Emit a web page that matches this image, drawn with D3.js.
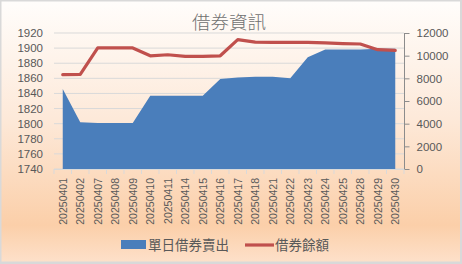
<!DOCTYPE html>
<html>
<head>
<meta charset="utf-8">
<script src="https://cdn.jsdelivr.net/npm/d3@7"></script>
<style>
  body { margin: 0; background: #fff; }
  svg { display: block; }
</style>
</head>
<body>
<div id="chart"></div>
<script>
// data
var dates = ["20250401","20250402","20250407","20250408","20250409","20250410","20250411","20250414","20250415","20250416",
             "20250417","20250418","20250421","20250422","20250423","20250424","20250425","20250428","20250429","20250430"];
var dailySell = [1846, 1802, 1801, 1801, 1801, 1837, 1837, 1837, 1837, 1859,
                 1861, 1862, 1862, 1860, 1888, 1898, 1898, 1898, 1899, 1899];
var balance = [8320, 8350, 10680, 10680, 10680, 9990, 10080, 9940, 9940, 9990,
               11410, 11200, 11170, 11170, 11170, 11120, 11060, 11030, 10530, 10470];
var leftTicks = [1740,1760,1780,1800,1820,1840,1860,1880,1900,1920];
var rightTicks = [0,2000,4000,6000,8000,10000,12000];

var W = 462, H = 264;
var plot = {left: 54, right: 404, top: 33, bottom: 169};
var numFont = "'Liberation Sans', Arial, sans-serif";
var cjkFont = "'Noto Sans CJK TC', 'Noto Sans CJK SC', sans-serif";

var svg = d3.select("#chart").append("svg")
    .attr("width", W)
    .attr("height", H);

// background gradient
var defs = svg.append("defs");
var grad = defs.append("linearGradient")
    .attr("id", "bg")
    .attr("x1", 0).attr("y1", 0).attr("x2", 0).attr("y2", 1);
grad.append("stop").attr("offset", "0").attr("stop-color", "#fffdfb");
grad.append("stop").attr("offset", "0.45").attr("stop-color", "#fde9d9");
grad.append("stop").attr("offset", "0.86").attr("stop-color", "#fbcfa9");
grad.append("stop").attr("offset", "1").attr("stop-color", "#fde0c9");

svg.append("rect")
    .attr("x", 0).attr("y", 0)
    .attr("width", W).attr("height", H)
    .attr("fill", "#d9d9d9");
svg.append("rect")
    .attr("x", 1.5).attr("y", 1.5)
    .attr("width", W - 3.5).attr("height", H - 4)
    .attr("fill", "url(#bg)");

// scales
var x = d3.scaleBand()
    .domain(dates)
    .range([plot.left, plot.right]);
var yL = d3.scaleLinear()
    .domain([1740, 1920])
    .range([plot.bottom, plot.top]);
var yR = d3.scaleLinear()
    .domain([0, 12000])
    .range([plot.bottom, plot.top]);
var cx = function(d) { return x(d) + x.bandwidth() / 2; };

// gridlines
svg.append("g")
    .selectAll("line")
    .data(leftTicks)
    .enter()
    .append("line")
    .attr("x1", plot.left)
    .attr("x2", plot.right)
    .attr("y1", d => yL(d))
    .attr("y2", d => yL(d))
    .attr("stroke", "#d9d9d9")
    .attr("stroke-width", 1);

// area
var area = d3.area()
    .x(function(d, i) { return cx(dates[i]); })
    .y0(yL(1740))
    .y1(function(d) { return yL(d); });

svg.append("path")
    .datum(dailySell)
    .attr("d", area)
    .attr("fill", "#4a7ebb");

// bottom axis line + ticks
svg.append("line")
    .attr("x1", plot.left).attr("x2", plot.right)
    .attr("y1", plot.bottom + 0.5).attr("y2", plot.bottom + 0.5)
    .attr("stroke", "#d9d9d9");
svg.append("g")
    .selectAll("line")
    .data(dates.concat(["end"]))
    .enter()
    .append("line")
    .attr("x1", (d, i) => plot.left + i * x.bandwidth())
    .attr("x2", (d, i) => plot.left + i * x.bandwidth())
    .attr("y1", plot.bottom)
    .attr("y2", plot.bottom + 5)
    .attr("stroke", "#d9d9d9");

// line
var line = d3.line()
    .x(function(d, i) { return cx(dates[i]); })
    .y(function(d) { return yR(d); });

svg.append("path")
    .datum(balance)
    .attr("d", line)
    .attr("fill", "none")
    .attr("stroke", "#c0504d")
    .attr("stroke-width", 3.2)
    .attr("stroke-linejoin", "round")
    .attr("stroke-linecap", "round");

// left axis labels
svg.append("g")
    .selectAll("text")
    .data(leftTicks)
    .enter()
    .append("text")
    .attr("x", 43)
    .attr("y", d => yL(d) + 4)
    .attr("text-anchor", "end")
    .style("font-family", numFont)
    .style("font-size", "11.5px")
    .attr("fill", "#595959")
    .text(d => d);

// right axis
var rightAxis = d3.axisRight(yR)
    .tickValues(rightTicks)
    .tickSize(5)
    .tickPadding(7)
    .tickFormat(d3.format("d"));

var ra = svg.append("g")
    .attr("transform", "translate(" + (plot.right + 0.5) + ",0)")
    .call(rightAxis);
ra.select(".domain").attr("stroke", "#8c8c8c").attr("d", "M0," + plot.top + "V" + plot.bottom);
ra.selectAll(".tick line").attr("stroke", "#8c8c8c");
ra.selectAll(".tick text")
    .style("font-family", numFont)
    .style("font-size", "11.5px")
    .attr("fill", "#595959");

// x labels, rotated
svg.append("g")
    .selectAll("text")
    .data(dates)
    .enter()
    .append("text")
    .attr("transform", d => "translate(" + (cx(d) + 4) + "," + (plot.bottom + 9) + ") rotate(-90)")
    .attr("text-anchor", "end")
    .style("font-family", numFont)
    .style("font-size", "10.5px")
    .attr("fill", "#595959")
    .text(d => d);

// title
svg.append("text")
    .attr("x", 229)
    .attr("y", 29)
    .attr("text-anchor", "middle")
    .style("font-family", cjkFont)
    .style("font-size", "18.5px")
    .style("font-weight", "300")
    .attr("fill", "#707070")
    .text("借券資訊");

// legend
var lg = svg.append("g");
lg.append("rect")
    .attr("x", 121).attr("y", 240)
    .attr("width", 25).attr("height", 9)
    .attr("fill", "#4a7ebb");
lg.append("text")
    .attr("x", 148).attr("y", 250)
    .style("font-family", cjkFont)
    .style("font-size", "13.5px")
    .attr("fill", "#595959")
    .text("單日借券賣出");
lg.append("line")
    .attr("x1", 245).attr("x2", 274)
    .attr("y1", 245).attr("y2", 245)
    .attr("stroke", "#c0504d")
    .attr("stroke-width", 3.2);
lg.append("text")
    .attr("x", 275).attr("y", 250)
    .style("font-family", cjkFont)
    .style("font-size", "13.5px")
    .attr("fill", "#595959")
    .text("借券餘額");
</script>
</body>
</html>
